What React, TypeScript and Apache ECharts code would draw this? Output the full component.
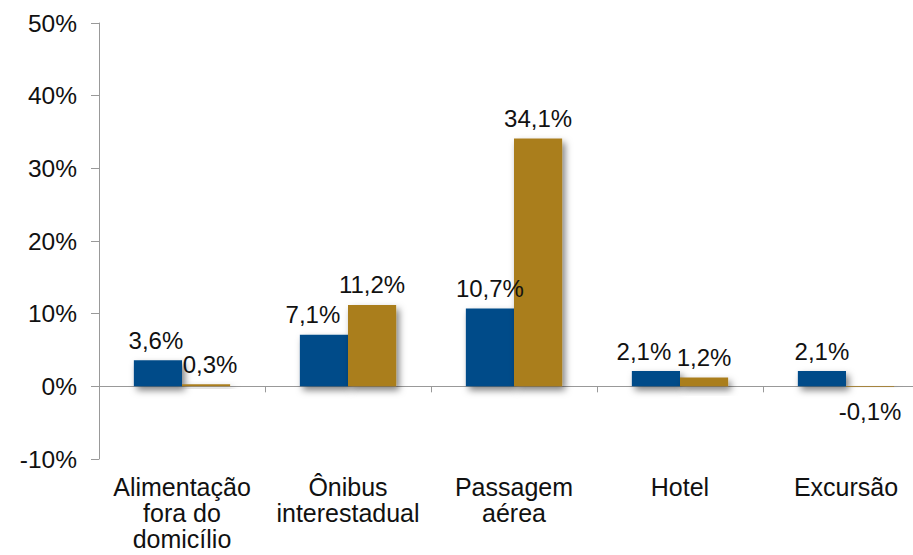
import React, { useEffect, useRef } from "react";
import * as echarts from "echarts";

const categories = [
  "Alimentação\nfora do\ndomicílio",
  "Ônibus\ninterestadual",
  "Passagem\naérea",
  "Hotel",
  "Excursão",
];
const seriesBlue = [3.6, 7.1, 10.7, 2.1, 2.1];
const seriesGold = [0.3, 11.2, 34.1, 1.2, -0.1];
const yTicks = [-10, 0, 10, 20, 30, 40, 50];
// horizontal nudges of the value labels (px), as placed in the original
const blueLabelShift = [-2, -11, 0, -12, 0];
const goldLabelShift = [4, 0, 0, 0, 0];

const FONT = "'Liberation Sans', Arial, sans-serif";
const fmt = (v: number) => v.toFixed(1).replace(".", ",") + "%";

export default function App() {
  const ref = useRef<HTMLDivElement>(null);
  useEffect(() => {
    if (!ref.current) return;
    const chart = echarts.init(ref.current, null, { renderer: "svg" });
    const mkData = (arr: number[], shifts: number[]) =>
      arr.map((v, i) => ({
        value: v,
        label: {
          position: v < 0 ? "bottom" : "top",
          distance: v < 0 ? 12 : 8,
          offset: [shifts[i], 0],
        },
      }));
    const shadow = {
      shadowBlur: 7,
      shadowOffsetX: 3,
      shadowOffsetY: 4,
      shadowColor: "rgba(0,0,0,0.5)",
    };
    const label = {
      show: true,
      formatter: (p: any) => fmt(p.value),
      fontFamily: FONT,
      fontSize: 24,
      color: "#111",
    };
    chart.setOption({
      animation: false,
      grid: { left: 99, right: 1, top: 23, bottom: 96, containLabel: false },
      xAxis: [
        {
          type: "category",
          data: categories,
          position: "bottom",
          axisLine: { show: false, onZero: false },
          axisTick: { show: false },
          axisLabel: {
            fontFamily: FONT,
            fontSize: 25,
            color: "#111",
            lineHeight: 26,
            margin: 15,
            interval: 0,
          },
        },
        {
          type: "category",
          data: categories,
          position: "bottom",
          axisLine: { show: true, onZero: true, lineStyle: { color: "#999", width: 1 } },
          axisTick: { show: true, length: 6, lineStyle: { color: "#999" } },
          axisLabel: { show: false },
        },
      ],
      yAxis: {
        type: "value",
        min: yTicks[0],
        max: yTicks[yTicks.length - 1],
        interval: 10,
        splitLine: { show: false },
        axisLine: { show: true, lineStyle: { color: "#999", width: 1 } },
        axisTick: { show: true, length: 8, lineStyle: { color: "#999" } },
        axisLabel: {
          fontFamily: FONT,
          fontSize: 24.5,
          color: "#111",
          margin: 22,
          formatter: (v: number) => v + "%",
        },
      },
      series: [
        {
          type: "bar",
          xAxisIndex: 0,
          data: mkData(seriesBlue, blueLabelShift),
          barGap: "0%",
          barCategoryGap: "42%",
          itemStyle: { color: "#064B89", ...shadow },
          label,
        },
        {
          type: "bar",
          xAxisIndex: 0,
          data: mkData(seriesGold, goldLabelShift),
          barGap: "0%",
          barCategoryGap: "42%",
          itemStyle: { color: "#AA7E1F", ...shadow },
          label,
        },
      ],
    });
    return () => chart.dispose();
  }, []);
  return (
    <div
      style={{
        position: "fixed",
        left: 0,
        top: 0,
        width: 913,
        height: 555,
        overflow: "hidden",
        background: "#fff",
      }}
    >
      <div ref={ref} style={{ width: 930, height: 555 }} />
    </div>
  );
}
